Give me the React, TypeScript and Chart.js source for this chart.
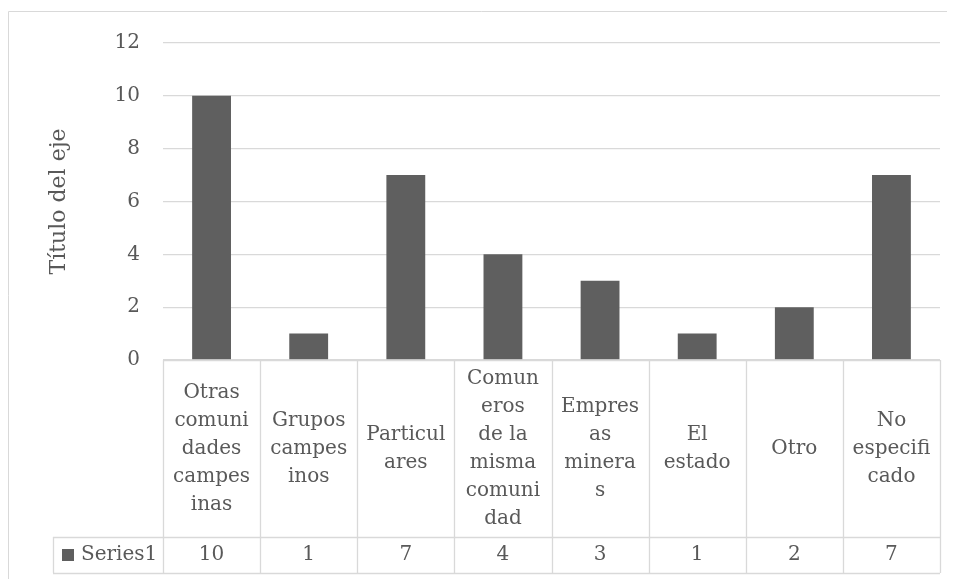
import React, { useEffect, useRef } from "react";
import { Chart, registerables } from "chart.js";

Chart.register(...registerables);

const categoryLines: string[][] = [
  ["Otras", "comuni", "dades", "campes", "inas"],
  ["Grupos", "campes", "inos"],
  ["Particul", "ares"],
  ["Comun", "eros", "de la", "misma", "comuni", "dad"],
  ["Empres", "as", "minera", "s"],
  ["El", "estado"],
  ["Otro"],
  ["No", "especifi", "cado"],
];
const categories: string[] = [
  "Otras comunidades campesinas",
  "Grupos campesinos",
  "Particulares",
  "Comuneros de la misma comunidad",
  "Empresas mineras",
  "El estado",
  "Otro",
  "No especificado",
];
const seriesName = "Series1";
const seriesValues: number[] = [10, 1, 7, 4, 3, 1, 2, 7];
const yTicks = { min: 0, max: 12, step: 2 };
const yTitle = "Título del eje";

const FONT = "'DejaVu Serif', serif";
const TEXT = "#595959";
const GRID = "#d9d9d9";
const BAR = "#5f5f5f";

const tablePlugin = {
  id: "dataTable",
  beforeDraw(chart: any) {
    const ctx = chart.ctx;
    ctx.save();
    ctx.strokeStyle = GRID;
    ctx.lineWidth = 1;
    ctx.beginPath();
    ctx.moveTo(0.5, chart.height);
    ctx.lineTo(0.5, 3.5);
    ctx.lineTo(chart.width, 3.5);
    ctx.stroke();
    ctx.restore();
  },
  afterDraw(chart: any) {
    const ctx = chart.ctx;
    const area = chart.chartArea;
    const n = categories.length;
    const w = (area.right - area.left) / n;
    const top = area.bottom;
    const rowSplit = 529;
    const bottom = 565;
    const legendLeft = 45;
    ctx.save();
    ctx.strokeStyle = GRID;
    ctx.lineWidth = 1.3;
    ctx.beginPath();
    ctx.moveTo(area.left, top + 0.5);
    ctx.lineTo(area.right, top + 0.5);
    ctx.moveTo(legendLeft, rowSplit + 0.5);
    ctx.lineTo(area.right, rowSplit + 0.5);
    ctx.moveTo(legendLeft, bottom + 0.5);
    ctx.lineTo(area.right, bottom + 0.5);
    ctx.moveTo(legendLeft + 0.5, rowSplit);
    ctx.lineTo(legendLeft + 0.5, bottom);
    for (let i = 0; i <= n; i++) {
      const x = Math.round(area.left + i * w) + 0.5;
      ctx.moveTo(x, top);
      ctx.lineTo(x, bottom);
    }
    ctx.stroke();

    ctx.fillStyle = TEXT;
    ctx.font = `20px ${FONT}`;
    ctx.textAlign = "center";
    ctx.textBaseline = "middle";
    const lh = 28;
    const midCat = (top + rowSplit) / 2;
    const midVal = (rowSplit + bottom) / 2;
    const xs = chart.scales.x;
    categoryLines.forEach((lines, i) => {
      const cx = xs.getPixelForValue(i);
      const start = midCat - ((lines.length - 1) * lh) / 2;
      lines.forEach((ln, j) => ctx.fillText(ln, cx, start + j * lh));
      ctx.fillText(String(seriesValues[i]), cx, midVal);
    });

    ctx.fillStyle = BAR;
    ctx.fillRect(54, midVal - 6, 12, 12);
    ctx.fillStyle = TEXT;
    ctx.textAlign = "left";
    ctx.fillText(seriesName, 73, midVal);
    ctx.restore();
  },
};

export default function App() {
  const ref = useRef<HTMLCanvasElement | null>(null);
  useEffect(() => {
    document.body.style.overflow = "hidden";
    if (!ref.current) return;
    const chart = new Chart(ref.current, {
      type: "bar",
      data: {
        labels: categories,
        datasets: [
          {
            label: seriesName,
            data: seriesValues,
            backgroundColor: BAR,
            borderWidth: 0,
            barPercentage: 0.4,
            categoryPercentage: 1,
          },
        ],
      },
      options: {
        animation: false,
        responsive: false,
        maintainAspectRatio: false,
        layout: { padding: { top: 32, bottom: 219, right: 15, left: 0 } },
        plugins: { legend: { display: false }, tooltip: { enabled: false } },
        scales: {
          x: { display: false },
          y: {
            min: yTicks.min,
            max: yTicks.max,
            ticks: {
              stepSize: yTicks.step,
              color: TEXT,
              font: { family: FONT, size: 20 },
              padding: 23,
            },
            grid: { color: GRID, lineWidth: 1.3, drawTicks: false },
            border: { display: false },
            title: {
              display: true,
              text: yTitle,
              color: TEXT,
              font: { family: FONT, size: 22 },
              padding: { top: 38, bottom: 0 },
            },
            afterFit: (scale: any) => {
              scale.width = 155;
            },
          },
        },
      },
      plugins: [tablePlugin],
    });
    return () => chart.destroy();
  }, []);
  return (
    <div style={{ width: 947, height: 571 }}>
      <canvas ref={ref} width={947} height={571} style={{ display: "block" }} />
    </div>
  );
}
